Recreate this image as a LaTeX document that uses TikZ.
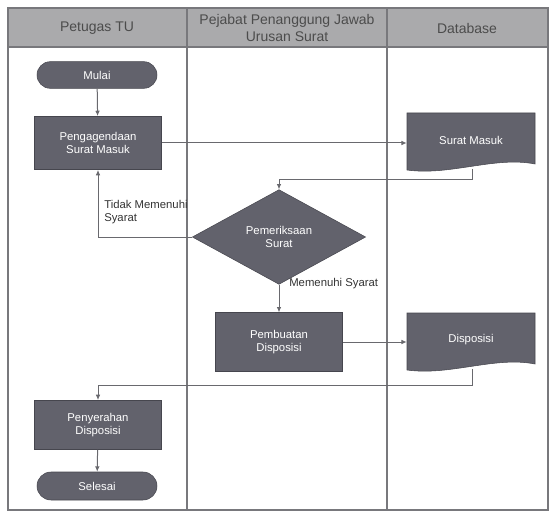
\documentclass[tikz,border=0pt]{standalone}
\usepackage{fontspec}
\setmainfont{Liberation Sans}
\usetikzlibrary{shapes.geometric,shapes.misc,arrows.meta}

\definecolor{boxfill}{RGB}{98,98,108}
\definecolor{boxline}{RGB}{70,70,78}
\definecolor{headfill}{RGB}{170,170,172}
\definecolor{laneline}{RGB}{120,120,124}
\definecolor{linkline}{RGB}{105,105,110}

\begin{document}
\begin{tikzpicture}[x=0.75pt,y=0.75pt,yscale=-1,xscale=1,
    every node/.style={font=\fontsize{8.5}{10}\selectfont},
    procbox/.style={draw=boxline, fill=boxfill, text=white, align=center, minimum width=95pt, minimum height=40pt, inner sep=1pt},
    termbox/.style={draw=boxline, fill=boxfill, text=white, rounded rectangle, minimum width=92pt, minimum height=20pt, inner sep=1pt},
    decbox/.style={draw=boxline, fill=boxfill, text=white, diamond, align=center, minimum width=130pt, minimum height=71pt, inner sep=0pt},
    docshape/.style={draw=boxline, fill=boxfill},
    doctext/.style={text=white, minimum width=96pt, minimum height=43pt, inner sep=0pt},
    headtext/.style={text=black!70, align=center, font=\fontsize{10.5}{13}\selectfont},
    linklabel/.style={text=black!80, align=left, inner sep=0.75pt},
    link/.style={draw=linkline, line width=0.75, -{Latex[length=4pt,width=3.5pt]}}]
        \useasboundingbox (0,0) rectangle (552,513);
        % lanes and header
        \fill[headfill] (8,8) rectangle (548,47);
        \draw[laneline, line width=0.9] (8,8) rectangle (548,510);
        \draw[laneline, line width=0.9] (8,47) -- (548,47);
        \draw[laneline, line width=0.9] (187,8) -- (187,510);
        \draw[laneline, line width=0.9] (387,8) -- (387,510);

        \node[headtext] (laneTU) at (97,28) {Petugas TU};
        \node[headtext] (lanePJ) at (287,28) {Pejabat Penanggung Jawab\\Urusan Surat};
        \node[headtext] (laneDB) at (467,28) {Database};

        % document shapes
        \draw[docshape] (407,113) -- (535,113) -- (535,164) .. controls (495,156) and (450,176) .. (407,170) -- cycle;
        \draw[docshape] (407,313) -- (535,313) -- (535,364) .. controls (495,356) and (450,376) .. (407,370) -- cycle;

        % nodes
        \node[termbox] (mulai) at (97,75) {Mulai};
        \node[procbox] (agenda) at (98,143) {Pengagendaan\\Surat Masuk};
        \node[doctext] (surat) at (471,140) {Surat Masuk};
        \node[decbox] (periksa) at (279,237) {Pemeriksaan\\Surat};
        \node[procbox, minimum height=44pt] (buat) at (279,342) {Pembuatan\\Disposisi};
        \node[doctext] (dispo) at (471,340) {Disposisi};
        \node[procbox, minimum height=37pt] (serah) at (98,425) {Penyerahan\\Disposisi};
        \node[termbox, minimum height=21pt] (selesai) at (97,486) {Selesai};

        \coordinate (belokA) at (472,180);
        \coordinate (belokB) at (472,385);

        % connectors
        \draw[link] (mulai) -- (agenda);
        \draw[link] (agenda.east) -- (agenda.east -| surat.west);
        \draw[link] (surat.south -| belokA) -- (belokA) -| (periksa.north);
        \draw[link] (periksa.west) -| (agenda.south);
        \draw[link] (periksa.south) -- (buat.north);
        \draw[link] (buat.east) -- (buat.east -| dispo.west);
        \draw[link] (dispo.south -| belokB) -- (belokB) -| (serah.north);
        \draw[link] (serah) -- (selesai);

        \node[linklabel, anchor=north west] (lblTidak) at (103,199) {Tidak Memenuhi\\Syarat};
        \node[linklabel, anchor=west] (lblYa) at (288,284) {Memenuhi Syarat};
\end{tikzpicture}
\end{document}
